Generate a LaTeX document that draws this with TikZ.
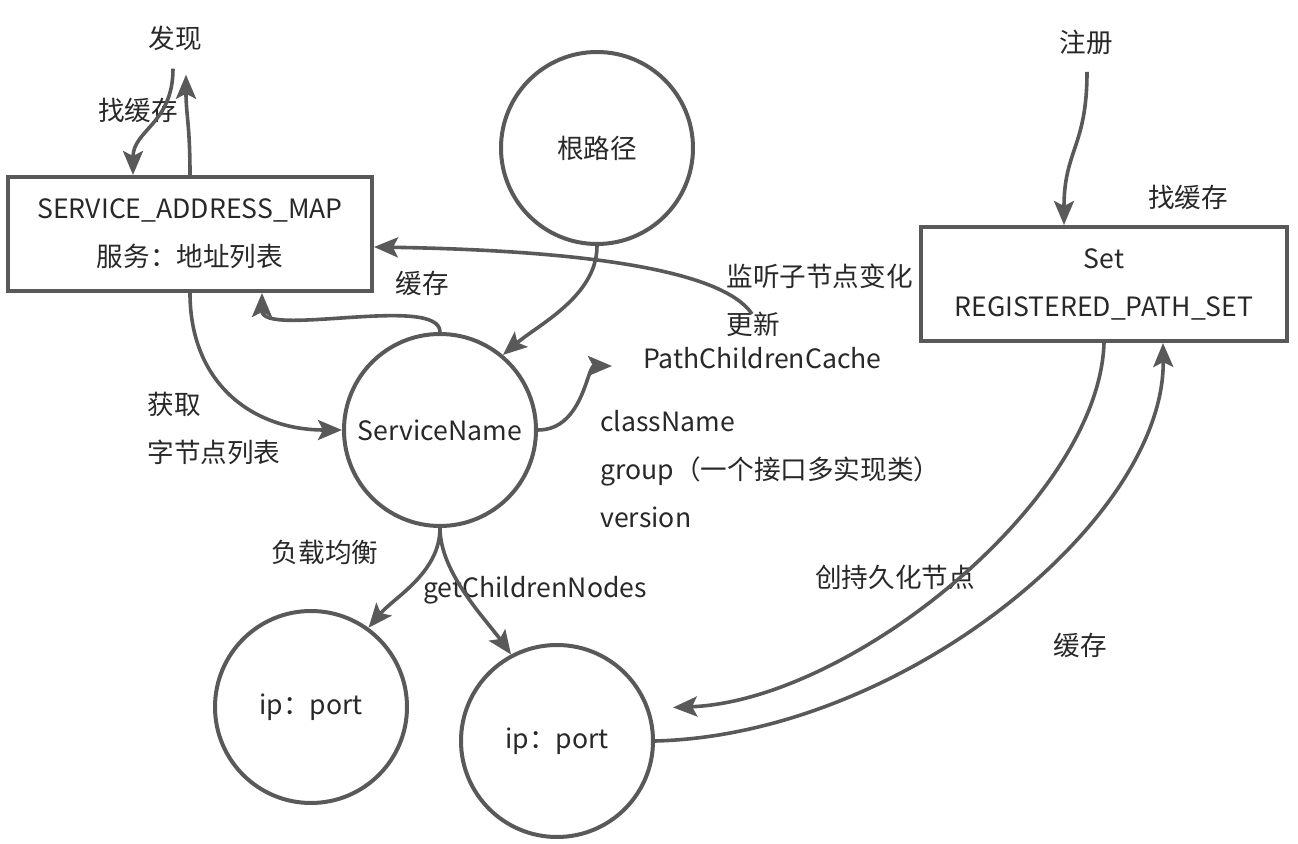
\documentclass[tikz,border=0pt]{standalone}
\usepackage{fontspec}
\setmainfont{Noto Sans CJK SC}
\usetikzlibrary{arrows.meta}
\definecolor{linegray}{RGB}{89,89,89}
\definecolor{textgray}{RGB}{40,40,40}
\begin{document}
\begin{tikzpicture}[x=0.5pt,y=-0.5pt,
    >={Stealth[length=12pt,width=10pt,inset=2.5pt]},
    every node/.style={text=textgray,font=\fontsize{13.3}{24}\selectfont},
    main node/.style={circle,draw=linegray,line width=2pt,minimum size=96pt,inner sep=0pt},
    store/.style={rectangle,draw=linegray,line width=2pt,minimum width=182pt,minimum height=57pt,align=center},
    note/.style={inner sep=2pt,align=left},
    flow/.style={->,draw=linegray,line width=1.8pt}]
  \useasboundingbox (0,0) rectangle (1298,844);

  % caches and tree nodes
  \node[store] (sam) at (190,234) {SERVICE\_ADDRESS\_MAP\\服务：地址列表};
  \node[store,minimum width=183pt] (set) at (1104,284) {Set\\REGISTERED\_PATH\_SET};
  \node[main node] (root) at (597,148) {根路径};
  \node[main node] (sn) at (440,430) {ServiceName};
  \node[main node] (ipa) at (311,707) {ip：port};
  \node[main node] (ipb) at (557,741) {ip：port};

  % labels
  \node[note] (found) at (175,38) {发现};
  \node[note] (reg) at (1086,42) {注册};
  \node[note] (find1) at (138,110) {找缓存};
  \node[note] (find2) at (1188,197) {找缓存};
  \node[note] (cache1) at (422,283) {缓存};
  \node[note] (cache2) at (1080,645) {缓存};
  \node[note,anchor=west] (watchtxt) at (722,300) {监听子节点变化\\更新};
  \node[note,anchor=west] (pcc) at (639,358) {PathChildrenCache};
  \node[note,anchor=west] (attrs) at (596,469) {className\\group（一个接口多实现类）\\version};
  \node[note,anchor=west] (fetch) at (143,428) {获取\\字节点列表};
  \node[note] (lb) at (325,552) {负载均衡};
  \node[note] (gcn) at (535,590) {getChildrenNodes};
  \node[note] (persist) at (895,577) {创持久化节点};

  \coordinate (watch) at (752,314);
  \coordinate (pccin) at (612,366);

  % connectors
  \draw[flow] ([xshift=-1pt,yshift=-7pt]found.south) .. controls +(0,55) and +(0,-45) .. ([xshift=-28.5pt]sam.north);
  \draw[flow] (sam.north) .. controls +(0,-50) and +(0,40) .. ([xshift=5.5pt,yshift=-10pt]found.south);
  \draw[flow] (watch) .. controls +(-32,-48) and +(185,3) .. ([yshift=-6.5pt]sam.east);
  \draw[flow] (root.south) .. controls +(0,50) and +(35,-30) .. (sn.50);
  \draw[flow] (sn.north) .. controls +(0,-38) and +(0,45) .. ([xshift=36pt]sam.south);
  \draw[flow] (sn.east) .. controls +(45,0) and +(-25,0) .. (pccin);
  \draw[flow] (sam.south) .. controls +(0,90) and +(-90,0) .. (sn.west);
  \draw[flow] (sn.south) .. controls +(0,45) and +(25,-30) .. (ipa.54);
  \draw[flow] (sn.south) .. controls +(0,45) and +(-25,-35) .. (ipb.118);
  \draw[flow] ([xshift=0.5pt,yshift=-6.5pt]reg.south) .. controls +(0,75) and +(0,-75) .. ([xshift=-20pt]set.north);
  \draw[flow] (set.south) .. controls +(-5,157) and +(178,-7) .. ([xshift=12pt]ipb.20);
  \draw[flow] (ipb.east) .. controls +(246,-6) and +(2,177) .. ([xshift=29.5pt]set.south);
\end{tikzpicture}
\end{document}
